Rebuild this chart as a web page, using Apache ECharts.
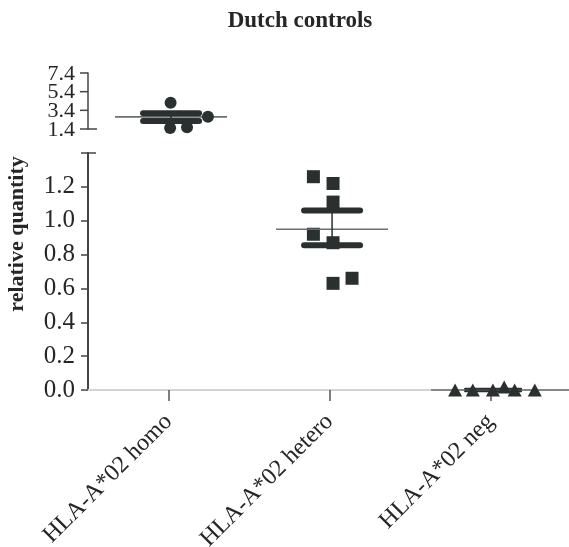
<!DOCTYPE html>
<html>
<head>
<meta charset="utf-8">
<script src="https://cdn.jsdelivr.net/npm/echarts@6/dist/echarts.min.js"></script>
<style>html,body{margin:0;padding:0;background:#fff}#c{width:569px;height:547px}</style>
</head>
<body>
<div id="c"></div>
<script>
var categories = ['HLA-A*02 homo', 'HLA-A*02 hetero', 'HLA-A*02 neg'];
var upperTicks = [1.4, 3.4, 5.4, 7.4];
var lowerTicks = [0.0, 0.2, 0.4, 0.6, 0.8, 1.0, 1.2];

var homoValues   = [4.2, 1.5, 1.6, 2.7];
var homoJitter   = [0.013, 0.01, 0.115, 0.245];
var heteroValues = [1.26, 1.22, 1.11, 0.92, 0.87, 0.63, 0.66];
var heteroJitter = [-0.10, 0.022, 0.022, -0.10, 0.022, 0.022, 0.14];
var negValues    = [0.0, 0.0, 0.0, 0.018, 0.0, 0.0];
var negJitter    = [-0.22, -0.11, 0.015, 0.085, 0.15, 0.275];

var meanValues = [2.7, 0.95, 0.0];
var sdUpper    = [3.1, 1.06, 0.008];
var sdLower    = [2.25, 0.855, -0.008];

var FONT = '"Liberation Serif", "DejaVu Serif", serif';
var DARK = '#2a3030';
var TXT = '#262626';

function pts(vals, jit, g) {
  return vals.map(function (v, i) { return [g + jit[i], v]; });
}

function renderBars(params, api) {
  var g = api.value(0), m = api.value(1), hi = api.value(2), lo = api.value(3);
  var c = g + 0.016;
  var pm = api.coord([c, m]), ph = api.coord([c, hi]), pl = api.coord([c, lo]);
  var halfMean = g === 2 ? 62 : 56;
  var halfSd = 28;
  return {
    type: 'group',
    children: [
      { type: 'line', shape: { x1: pm[0] - halfMean, y1: pm[1], x2: pm[0] + halfMean + (g === 2 ? 14 : 0), y2: pm[1] },
        style: { stroke: '#6a6f6f', lineWidth: 1.6 } },
      { type: 'line', shape: { x1: ph[0], y1: ph[1], x2: pl[0], y2: pl[1] },
        style: { stroke: DARK, lineWidth: 1.5 } },
      { type: 'line', shape: { x1: ph[0] - halfSd, y1: ph[1], x2: ph[0] + halfSd, y2: ph[1] },
        style: { stroke: DARK, lineWidth: g === 2 ? 2 : 6, lineCap: 'round' } },
      { type: 'line', shape: { x1: pl[0] - halfSd, y1: pl[1], x2: pl[0] + halfSd, y2: pl[1] },
        style: { stroke: DARK, lineWidth: g === 2 ? 2 : 6, lineCap: 'round' } }
    ]
  };
}

// ticks + labels of the upper (broken) axis segment, placed through the axis scale
function renderUpperTicks(params, api) {
  var v = api.value(0);
  var p = api.coord([-0.5, v]);
  var isFirst = params.dataIndex === 0;
  return {
    type: 'group',
    children: [
      { type: 'line', shape: { x1: p[0] - 8, y1: p[1], x2: p[0] + (isFirst ? 9 : 0), y2: p[1] },
        style: { stroke: '#444', lineWidth: 1.5 } },
      { type: 'text', x: p[0] - 13, y: p[1] + 1,
        style: { text: v.toFixed(1), font: '22px ' + FONT, fill: TXT, align: 'right', verticalAlign: 'middle' } }
    ]
  };
}

var chart = echarts.init(document.getElementById('c'), null, { renderer: 'canvas' });
chart.setOption({
  animation: false,
  backgroundColor: '#ffffff',
  title: {
    text: 'Dutch controls', left: 295, top: 5, textAlign: 'center',
    textStyle: { fontFamily: FONT, fontWeight: 'bold', fontSize: 23, color: TXT }
  },
  grid: [
    { left: 88, right: -2, top: 73, height: 56, outerBoundsMode: 'none', containLabel: false },
    { left: 88, right: -2, top: 153, bottom: 157, outerBoundsMode: 'none', containLabel: false }
  ],
  xAxis: [
    { gridIndex: 0, type: 'value', min: -0.5, max: 2.5, show: false },
    { gridIndex: 1, type: 'category', data: categories, boundaryGap: true,
      axisLine: { show: true, onZero: false, lineStyle: { color: '#d4d4d4', width: 2 } },
      axisTick: { show: true, alignWithLabel: true, length: 11, lineStyle: { color: '#555', width: 1.5 } },
      axisLabel: { rotate: 45, margin: 28, fontFamily: FONT, fontSize: 24, color: TXT } },
    { gridIndex: 1, type: 'value', min: -0.5, max: 2.5, show: false }
  ],
  yAxis: [
    { gridIndex: 0, type: 'value', min: upperTicks[0], max: upperTicks[upperTicks.length - 1],
      axisLine: { show: true, onZero: false, lineStyle: { color: '#444', width: 1.5 } },
      axisTick: { show: false }, axisLabel: { show: false },
      splitLine: { show: false } },
    { gridIndex: 1, type: 'value', min: 0, max: 1.4, interval: 0.2,
      axisLine: { show: true, onZero: false, lineStyle: { color: '#444', width: 2 } },
      axisTick: { show: true, length: 7, lineStyle: { color: '#444', width: 1.5 } },
      splitLine: { show: false },
      axisLabel: { margin: 13, fontFamily: FONT, fontSize: 25, color: TXT,
        showMinLabel: true, showMaxLabel: true,
        formatter: function (v) { return lowerTicks.indexOf(Math.round(v * 10) / 10) >= 0 ? v.toFixed(1) : ''; } } }
  ],
  graphic: [
    { type: 'text', x: 6, y: 234, rotation: Math.PI / 2,
      style: { text: 'relative quantity', font: 'bold 22px ' + FONT, fill: TXT, align: 'center', verticalAlign: 'top' } },
    { type: 'line', shape: { x1: 88, y1: 153, x2: 96, y2: 153 }, style: { stroke: '#444', lineWidth: 1.5 } }
  ],
  series: [
    { type: 'custom', xAxisIndex: 0, yAxisIndex: 0, renderItem: renderUpperTicks, clip: false, z: 1,
      silent: true, data: upperTicks.map(function (t) { return [t]; }) },
    { type: 'custom', xAxisIndex: 0, yAxisIndex: 0, renderItem: renderBars, z: 2,
      data: [[0, meanValues[0], sdUpper[0], sdLower[0]]] },
    { type: 'custom', xAxisIndex: 2, yAxisIndex: 1, renderItem: renderBars, z: 2,
      data: [[1, meanValues[1], sdUpper[1], sdLower[1]], [2, meanValues[2], sdUpper[2], sdLower[2]]] },
    { type: 'scatter', xAxisIndex: 0, yAxisIndex: 0, symbol: 'circle', symbolSize: 12, clip: false, z: 3,
      itemStyle: { color: DARK, opacity: 1 }, data: pts(homoValues, homoJitter, 0) },
    { type: 'scatter', xAxisIndex: 2, yAxisIndex: 1, symbol: 'rect', symbolSize: 13, clip: false, z: 1,
      itemStyle: { color: DARK, opacity: 1 }, data: pts(heteroValues, heteroJitter, 1) },
    { type: 'scatter', xAxisIndex: 2, yAxisIndex: 1, symbol: 'triangle', symbolSize: [14, 13], clip: false, z: 3,
      itemStyle: { color: DARK, opacity: 1 }, data: pts(negValues, negJitter, 2) }
  ]
});
</script>
</body>
</html>
